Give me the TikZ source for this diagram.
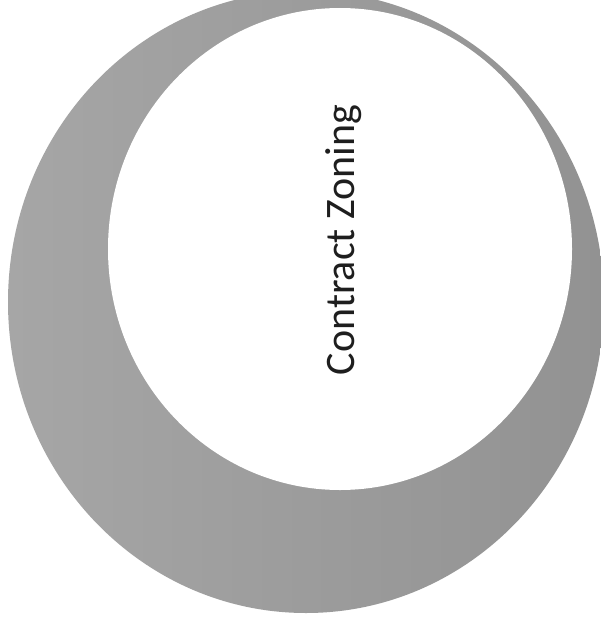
\documentclass[tikz,border=0pt]{standalone}
\usepackage{fontspec}
\setmainfont{Carlito}
\usetikzlibrary{shapes.geometric}
\definecolor{ringlight}{RGB}{166,166,166}
\definecolor{ringdark}{RGB}{146,146,146}
\definecolor{textgray}{RGB}{30,30,30}
\tikzset{
  disc/.style={ellipse, inner sep=0pt, draw=none},
  label text/.style={text=textgray, font=\fontsize{42}{48}\selectfont, rotate=90, inner sep=0pt}
}
\begin{document}
\begin{tikzpicture}[x=1pt,y=-1pt]
\useasboundingbox (0,0) rectangle (601,626);
\fill[white] (0,0) rectangle (601,626);
\begin{scope}
\clip (0,0) rectangle (601,626);
\node[disc, left color=ringlight, right color=ringdark, minimum width=596pt, minimum height=622pt] (outer) at (306,302) {};
\end{scope}
\node[disc, fill=white, minimum width=464pt, minimum height=482pt] (inner) at (340,249) {};
\node[label text] (title) at (344,240) {Contract Zoning};
\end{tikzpicture}
\end{document}
